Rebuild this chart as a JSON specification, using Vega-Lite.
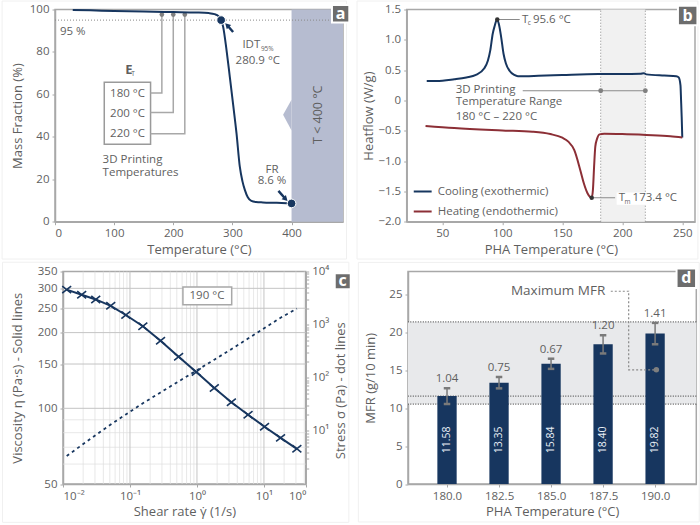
{
"$schema":"https://vega.github.io/schema/vega-lite/v6.json",
"autosize":{"type":"pad"},
"padding":{"left":0,"top":-0.5,"right":0,"bottom":0},
"background":"white",
"config":{
 "font":"Open Sans",
 "view":{"stroke":"#a8a8a8","strokeWidth":1.5},
 "axis":{"grid":false,"domainColor":"#a8a8a8","domainWidth":1.5,"tickColor":"#a8a8a8","tickSize":3,"labelColor":"#5f5f5f","labelFont":"Open Sans","labelFontSize":11.5,"labelPadding":3,"titleFont":"Open Sans","titleFontSize":13,"titleFontWeight":"normal","titleColor":"#5f5f5f","titleBaseline":"middle","labelOverlap":false,"labelBound":false},
 "text":{"font":"Open Sans","fontSize":11.5,"color":"#5f5f5f"}
},
"spacing":0,
"bounds":"full",
"vconcat":[
{"resolve":{"scale":{"color":"independent"},"legend":{"color":"independent"}},"hconcat":[
{"width":288,"height":212.2,
 "encoding":{
  "x":{"field":"x","type":"quantitative","scale":{"domain":[0,487],"nice":false},"axis":{"title":"Temperature (°C)","values":[0,100,200,300,400],"titleY":27.5}},
  "y":{"field":"y","type":"quantitative","scale":{"domain":[0,100],"nice":false},"axis":{"title":"Mass Fraction (%)","values":[0,20,40,60,80,100],"titleX":-38}}
 },
 "layer":[
  {"data":{"values":[{"x":-89.5,"x2":493,"y":104,"y2":-17.6}]},"mark":{"type":"rect","fill":null,"stroke":"#f0f0f0","strokeWidth":1},"encoding":{"x2":{"field":"x2"},"y2":{"field":"y2"}}},
  {"data":{"values":[{"x":400,"x2":487,"y":0,"y2":100}]},"mark":{"type":"rect","fill":"#b6bcd0"},"encoding":{"x2":{"field":"x2"},"y2":{"field":"y2"}}},
  {"data":{"values":[{"x":385.7,"y":50.4,"y2":50.4},{"x":400,"y":57.5,"y2":43}]},"mark":{"type":"area","fill":"#b6bcd0"},"encoding":{"y2":{"field":"y2"}}},
  {"data":{"values":[{"x":0,"x2":487,"y":95}]},"mark":{"type":"rule","stroke":"#8a8a8a","strokeWidth":1,"strokeDash":[1,2]},"encoding":{"x2":{"field":"x2"}}},
  {"data":{"values":[{"x":83.3,"x2":161.6,"y":65.7,"y2":36.5}]},"mark":{"type":"rect","fill":null,"stroke":"#9a9a9a","strokeWidth":1.5},"encoding":{"x2":{"field":"x2"},"y2":{"field":"y2"}}},
  {"data":{"values":[
    {"g":"a","i":1,"x":161.6,"y":60.6},{"g":"a","i":2,"x":180.7,"y":60.6},{"g":"a","i":3,"x":180.7,"y":97.6},
    {"g":"b","i":1,"x":161.6,"y":51.5},{"g":"b","i":2,"x":200,"y":51.5},{"g":"b","i":3,"x":200,"y":97.6},
    {"g":"c","i":1,"x":161.6,"y":41.4},{"g":"c","i":2,"x":219.5,"y":41.4},{"g":"c","i":3,"x":219.5,"y":97.6}]},
   "mark":{"type":"line","stroke":"#a8a8a8","strokeWidth":1.5},"encoding":{"detail":{"field":"g"},"order":{"field":"i"}}},
  {"data":{"values":[{"x":180.7,"y":97.6},{"x":200,"y":97.6},{"x":219.5,"y":97.6}]},"mark":{"type":"point","filled":true,"fill":"#808080","stroke":null,"size":22,"opacity":1}},
  {"data":{"values":[{"x":30,"y":99.8},{"x":60,"y":99.6},{"x":100,"y":99.3},{"x":150,"y":99.0},{"x":200,"y":98.8},{"x":240,"y":98.6},{"x":260,"y":98.3},{"x":270,"y":97.8},{"x":276,"y":97},{"x":280.9,"y":95},{"x":284.3,"y":91.9},{"x":290,"y":81},{"x":295.6,"y":68.3},{"x":301.3,"y":55},{"x":306.9,"y":41.7},{"x":312.5,"y":25.9},{"x":317,"y":19},{"x":321,"y":15},{"x":326,"y":11.5},{"x":332,"y":9.8},{"x":340,"y":9.3},{"x":351.6,"y":9.1},{"x":375,"y":8.9},{"x":400,"y":8.6}]},"mark":{"type":"line","stroke":"#17365f","strokeWidth":2,"interpolate":"monotone"}},
  {"data":{"values":[{"x":280.9,"y":95},{"x":400,"y":8.6}]},"mark":{"type":"point","filled":true,"fill":"#17365f","stroke":"white","strokeWidth":1,"size":75,"opacity":1}},
  {"data":{"values":[{"x":301.2,"y":89.4},{"x":293,"y":92}]},"mark":{"type":"line","stroke":"#17365f","strokeWidth":2.5}},
  {"data":{"values":[{"x":291,"y":92.6}]},"mark":{"type":"point","shape":"triangle-up","filled":true,"fill":"#17365f","stroke":null,"size":38,"angle":-45,"opacity":1}},
  {"data":{"values":[{"x":377.8,"y":14.5},{"x":388,"y":11.3}]},"mark":{"type":"line","stroke":"#17365f","strokeWidth":2.5}},
  {"data":{"values":[{"x":390,"y":10.7}]},"mark":{"type":"point","shape":"triangle-up","filled":true,"fill":"#17365f","stroke":null,"size":38,"angle":135,"opacity":1}},
  {"data":{"values":[{"x":122.6,"y":60,"t":"180 °C"},{"x":122.6,"y":50.8,"t":"200 °C"},{"x":122.6,"y":41.4,"t":"220 °C"},{"x":332,"y":83.5,"t":"IDT"},{"x":343,"y":75.9,"t":"280.9 °C"},{"x":367,"y":24.4,"t":"FR"},{"x":367,"y":19.2,"t":"8.6 %"}]},"mark":{"type":"text","align":"center","baseline":"middle"},"encoding":{"text":{"field":"t"}}},
  {"data":{"values":[{"x":8.4,"y":89.4,"t":"95 %"},{"x":80.5,"y":29,"t":"3D Printing"},{"x":80.5,"y":22.8,"t":"Temperatures"}]},"mark":{"type":"text","align":"left","baseline":"middle"},"encoding":{"text":{"field":"t"}}},
  {"data":{"values":[{"x":359,"y":81.6,"t":"95%"},{"x":132,"y":69.8,"t":"T"}]},"mark":{"type":"text","align":"center","baseline":"middle","fontSize":6.5},"encoding":{"text":{"field":"t"}}},
  {"data":{"values":[{"x":125,"y":71.5,"t":"E"}]},"mark":{"type":"text","align":"center","baseline":"middle","fontSize":13,"fontWeight":"bold"},"encoding":{"text":{"field":"t"}}},
  {"data":{"values":[{"x":444.8,"y":50.4,"t":"T < 400 °C"}]},"mark":{"type":"text","align":"center","baseline":"middle","angle":270,"fontSize":12.5},"encoding":{"text":{"field":"t"}}},
  {"data":{"values":[{"x":483,"y":98}]},"mark":{"type":"point","shape":"square","filled":true,"fill":"#6d6d6d","stroke":"white","strokeWidth":2,"size":300,"opacity":1}},
  {"data":{"values":[{"x":483,"y":98,"t":"a"}]},"mark":{"type":"text","align":"center","baseline":"middle","fontSize":16,"fontWeight":"bold","color":"white"},"encoding":{"text":{"field":"t"}}}
 ]},
{"width":288.3,"height":212.2,
 "encoding":{
  "x":{"field":"x","type":"quantitative","scale":{"domain":[20.3,260.6],"nice":false},"axis":{"title":"PHA Temperature (°C)","values":[50,100,150,200,250],"titleY":27.5}},
  "y":{"field":"y","type":"quantitative","scale":{"domain":[-2,1.5],"nice":false},"axis":{"title":"Heatflow (W/g)","values":[-2,-1.5,-1,-0.5,0,0.5,1,1.5],"labelExpr":"datum.value===0?'0':format(datum.value,'.1f')","titleX":-38}}
 },
 "layer":[
  {"data":{"values":[{"x":-21.1,"x2":263,"y":1.64,"y2":-2.616}]},"mark":{"type":"rect","fill":null,"stroke":"#f0f0f0","strokeWidth":1},"encoding":{"x2":{"field":"x2"},"y2":{"field":"y2"}}},
  {"data":{"values":[{"x":182,"x2":219.2,"y":-2,"y2":1.5}]},"mark":{"type":"rect","fill":"#f1f1f1"},"encoding":{"x2":{"field":"x2"},"y2":{"field":"y2"}}},
  {"data":{"values":[{"x":182,"y":-2,"y2":1.5},{"x":219.2,"y":-2,"y2":1.5}]},"mark":{"type":"rule","stroke":"#8a8a8a","strokeWidth":1,"strokeDash":[1,2]},"encoding":{"y2":{"field":"y2"}}},
  {"data":{"values":[{"x":195.3,"x2":222,"y":-1.52,"y2":-1.72}]},"mark":{"type":"rect","fill":"white"},"encoding":{"x2":{"field":"x2"},"y2":{"field":"y2"}}},
  {"data":{"values":[{"x":117,"x2":219.2,"y":0.16}]},"mark":{"type":"rule","stroke":"#8a8a8a","strokeWidth":1.2},"encoding":{"x2":{"field":"x2"}}},
  {"data":{"values":[{"x":182,"y":0.16},{"x":219.2,"y":0.16}]},"mark":{"type":"point","filled":true,"fill":"#808080","stroke":null,"size":24,"opacity":1}},
  {"data":{"values":[{"x":95.8,"x2":114.5,"y":1.335},{"x":174.5,"x2":194,"y":-1.605}]},"mark":{"type":"rule","stroke":"#8a8a8a","strokeWidth":1},"encoding":{"x2":{"field":"x2"}}},
  {"data":{"values":[
   {"s":"Cooling (exothermic)","x":37,"y":0.32},{"s":"Cooling (exothermic)","x":45,"y":0.32},{"s":"Cooling (exothermic)","x":60,"y":0.35},{"s":"Cooling (exothermic)","x":70,"y":0.38},{"s":"Cooling (exothermic)","x":78,"y":0.42},{"s":"Cooling (exothermic)","x":85,"y":0.53},{"s":"Cooling (exothermic)","x":88,"y":0.66},{"s":"Cooling (exothermic)","x":90,"y":0.83},{"s":"Cooling (exothermic)","x":92,"y":1.1},{"s":"Cooling (exothermic)","x":93.5,"y":1.22},{"s":"Cooling (exothermic)","x":95.6,"y":1.335},{"s":"Cooling (exothermic)","x":97,"y":1.27},{"s":"Cooling (exothermic)","x":99,"y":1.05},{"s":"Cooling (exothermic)","x":101,"y":0.77},{"s":"Cooling (exothermic)","x":103,"y":0.61},{"s":"Cooling (exothermic)","x":106,"y":0.49},{"s":"Cooling (exothermic)","x":110,"y":0.42},{"s":"Cooling (exothermic)","x":113,"y":0.4},{"s":"Cooling (exothermic)","x":130,"y":0.407},{"s":"Cooling (exothermic)","x":150,"y":0.42},{"s":"Cooling (exothermic)","x":180,"y":0.435},{"s":"Cooling (exothermic)","x":200,"y":0.435},{"s":"Cooling (exothermic)","x":215,"y":0.44},{"s":"Cooling (exothermic)","x":218,"y":0.45},{"s":"Cooling (exothermic)","x":220,"y":0.43},{"s":"Cooling (exothermic)","x":235,"y":0.41},{"s":"Cooling (exothermic)","x":245,"y":0.4},{"s":"Cooling (exothermic)","x":247,"y":0.38},{"s":"Cooling (exothermic)","x":248.5,"y":0.25},{"s":"Cooling (exothermic)","x":249,"y":0},{"s":"Cooling (exothermic)","x":249.5,"y":-0.27},{"s":"Cooling (exothermic)","x":250,"y":-0.61},
   {"s":"Heating (endothermic)","x":36,"y":-0.42},{"s":"Heating (endothermic)","x":60,"y":-0.456},{"s":"Heating (endothermic)","x":100,"y":-0.495},{"s":"Heating (endothermic)","x":125,"y":-0.516},{"s":"Heating (endothermic)","x":140,"y":-0.555},{"s":"Heating (endothermic)","x":150,"y":-0.615},{"s":"Heating (endothermic)","x":155,"y":-0.68},{"s":"Heating (endothermic)","x":160,"y":-0.82},{"s":"Heating (endothermic)","x":165,"y":-1.15},{"s":"Heating (endothermic)","x":168,"y":-1.37},{"s":"Heating (endothermic)","x":171,"y":-1.53},{"s":"Heating (endothermic)","x":174.5,"y":-1.605},{"s":"Heating (endothermic)","x":175.5,"y":-1.48},{"s":"Heating (endothermic)","x":176.5,"y":-1.09},{"s":"Heating (endothermic)","x":177.5,"y":-0.76},{"s":"Heating (endothermic)","x":179,"y":-0.63},{"s":"Heating (endothermic)","x":181,"y":-0.56},{"s":"Heating (endothermic)","x":185,"y":-0.55},{"s":"Heating (endothermic)","x":200,"y":-0.555},{"s":"Heating (endothermic)","x":220,"y":-0.57},{"s":"Heating (endothermic)","x":240,"y":-0.59},{"s":"Heating (endothermic)","x":250,"y":-0.61}]},
   "mark":{"type":"line","strokeWidth":2,"interpolate":"monotone"},
   "encoding":{"color":{"field":"s","type":"nominal","scale":{"domain":["Cooling (exothermic)","Heating (endothermic)"],"range":["#17365f","#8c2f36"]},"legend":{"orient":"none","legendX":6,"legendY":172,"title":null,"symbolType":"stroke","symbolStrokeWidth":2,"symbolSize":320,"labelFont":"Open Sans","labelFontSize":11.5,"labelColor":"#5f5f5f","rowPadding":4,"labelLimit":200,"labelOffset":5}}}},
  {"data":{"values":[{"x":95.8,"y":1.335},{"x":174.5,"y":-1.605}]},"mark":{"type":"point","filled":true,"fill":"#333333","stroke":null,"size":20,"opacity":1}},
  {"data":{"values":[{"x":61.1,"y":0.18,"t":"3D Printing"},{"x":61.1,"y":-0.03,"t":"Temperature Range"},{"x":61.1,"y":-0.27,"t":"180 °C – 220 °C"},{"x":116.5,"y":1.32,"t":"T"},{"x":125.5,"y":1.32,"t":"95.6 °C"},{"x":197,"y":-1.615,"t":"T"},{"x":208.6,"y":-1.615,"t":"173.4 °C"}]},"mark":{"type":"text","align":"left","baseline":"middle"},"encoding":{"text":{"field":"t"}}},
  {"data":{"values":[{"x":122.5,"y":1.27,"t":"c"},{"x":204.4,"y":-1.67,"t":"m"}]},"mark":{"type":"text","align":"center","baseline":"middle","fontSize":6.5},"encoding":{"text":{"field":"t"}}},
  {"data":{"values":[{"x":254.5,"y":1.4}]},"mark":{"type":"point","shape":"square","filled":true,"fill":"#6d6d6d","stroke":"white","strokeWidth":2,"size":380,"opacity":1}},
  {"data":{"values":[{"x":254.5,"y":1.4,"t":"b"}]},"mark":{"type":"text","align":"center","baseline":"middle","fontSize":16,"fontWeight":"bold","color":"white"},"encoding":{"text":{"field":"t"}}}
 ]}
],"spacing":63.7,"bounds":"flush"},
{"hconcat":[
{"width":7.3,"height":212.5,"view":{"stroke":null},"data":{"values":[{"x":0}]},"mark":{"type":"rule","opacity":0},"encoding":{}},
{"width":242.7,"height":212.5,
 "layer":[
 {"encoding":{
  "x":{"field":"x","type":"quantitative","scale":{"type":"log","domain":[0.01,42],"nice":false},"axis":{"title":"Shear rate γ̇  (1/s)","values":[0.01,0.1,1,10,42],"labelExpr":"datum.value==0.01?'10⁻²':datum.value==0.1?'10⁻¹':datum.value==1?'10⁰':datum.value==10?'10¹':'10⁰'","titleY":27.5}},
  "y":{"field":"y","type":"quantitative","scale":{"type":"log","domain":[50,350],"nice":false},"axis":{"title":"Viscosity η (Pa·s) - Solid lines","values":[50,100,150,200,250,300,350],"format":"d","titleX":-45.3}}
 },
 "layer":[
  {"data":{"values":[{"x":0.00125,"x2":185,"y":381,"y2":35.2}]},"mark":{"type":"rect","fill":null,"stroke":"#f0f0f0","strokeWidth":1},"encoding":{"x2":{"field":"x2"},"y2":{"field":"y2"}}},
  {"data":{"values":[{"x":0.02},{"x":0.03},{"x":0.04},{"x":0.05},{"x":0.06},{"x":0.07},{"x":0.08},{"x":0.09},{"x":0.2},{"x":0.3},{"x":0.4},{"x":0.5},{"x":0.6},{"x":0.7},{"x":0.8},{"x":0.9},{"x":2},{"x":3},{"x":4},{"x":5},{"x":6},{"x":7},{"x":8},{"x":9},{"x":20},{"x":30},{"x":40}]},"mark":{"type":"rule","stroke":"#dedede","strokeWidth":0.7},"encoding":{"y":null}},
  {"data":{"values":[{"y":60},{"y":70},{"y":80},{"y":90}]},"mark":{"type":"rule","stroke":"#dedede","strokeWidth":0.7},"encoding":{"x":null}},
  {"data":{"values":[{"x":0.1},{"x":1},{"x":10}]},"mark":{"type":"rule","stroke":"#c4c4c4","strokeWidth":1},"encoding":{"y":null}},
  {"data":{"values":[{"y":100},{"y":150},{"y":200},{"y":250},{"y":300}]},"mark":{"type":"rule","stroke":"#c4c4c4","strokeWidth":1},"encoding":{"x":null}},
  {"data":{"values":[{"x":0.617,"x2":3.3,"y":304,"y2":258}]},"mark":{"type":"rect","fill":"white","stroke":"#a8a8a8","strokeWidth":1.5},"encoding":{"x2":{"field":"x2"},"y2":{"field":"y2"}}},
  {"data":{"values":[{"x":1.41,"y":280,"t":"190 °C"}]},"mark":{"type":"text","align":"center","baseline":"middle"},"encoding":{"text":{"field":"t"}}},
  {"data":{"values":[{"x":0.01135,"y":296.6},{"x":0.019,"y":283},{"x":0.0308,"y":271},{"x":0.0516,"y":255.6},{"x":0.0867,"y":235},{"x":0.1556,"y":212},{"x":0.2858,"y":185.6},{"x":0.532,"y":160.4},{"x":0.977,"y":139.4},{"x":1.815,"y":120.5},{"x":3.26,"y":105.7},{"x":5.79,"y":94.3},{"x":10.2,"y":84.5},{"x":17.7,"y":76.3},{"x":31,"y":69}]},
   "layer":[
    {"mark":{"type":"line","stroke":"#17365f","strokeWidth":2}},
    {"mark":{"type":"point","shape":"M-1,-0.8L1,0.8M-1,0.8L1,-0.8","filled":false,"stroke":"#17365f","strokeWidth":1.6,"size":80,"opacity":1}}
   ]},
  {"data":{"values":[{"x":150,"y":320}]},"mark":{"type":"point","shape":"square","filled":true,"fill":"#6d6d6d","stroke":"white","strokeWidth":2,"size":256,"opacity":1}},
  {"data":{"values":[{"x":150,"y":320,"t":"c"}]},"mark":{"type":"text","align":"center","baseline":"middle","fontSize":16,"fontWeight":"bold","color":"white"},"encoding":{"text":{"field":"t"}}}
 ]},
 {"data":{"values":[{"x":0.01135,"s":3.37},{"x":0.019,"s":5.38},{"x":0.0308,"s":8.35},{"x":0.0516,"s":13.2},{"x":0.0867,"s":20.4},{"x":0.1556,"s":33},{"x":0.2858,"s":53},{"x":0.532,"s":85.3},{"x":0.977,"s":136},{"x":1.815,"s":219},{"x":3.26,"s":345},{"x":5.79,"s":546},{"x":10.2,"s":862},{"x":17.7,"s":1350},{"x":31,"s":2000}]},
  "mark":{"type":"line","stroke":"#17365f","strokeWidth":1.8,"strokeDash":[3,3.5]},
  "encoding":{
   "x":{"field":"x","type":"quantitative","scale":{"type":"log","domain":[0.01,42],"nice":false}},
   "y":{"field":"s","type":"quantitative","scale":{"type":"log","domain":[1,10000],"nice":false},"axis":{"orient":"right","title":"Stress σ (Pa) - dot lines","titleAngle":270,"values":[2,3,4,5,6,7,8,9,10,20,30,40,50,60,70,80,90,100,200,300,400,500,600,700,800,900,1000,2000,3000,4000,5000,6000,7000,8000,9000,10000],"labelExpr":"datum.value==10?'10¹':datum.value==100?'10²':datum.value==1000?'10³':datum.value==10000?'10⁴':''","titleX":35,"titleY":118.7}}
  }}
 ],
 "resolve":{"scale":{"y":"independent"},"axis":{"y":"independent"}}
},
{"width":101.7,"height":212.5,"view":{"stroke":null},"data":{"values":[{"x":0}]},"mark":{"type":"rule","opacity":0},"encoding":{}},
{"width":288.3,"height":212.5,
 "encoding":{
  "x":{"field":"x","type":"quantitative","scale":{"domain":[178.125,191.98],"nice":false,"padding":0},"axis":{"title":"PHA Temperature (°C)","values":[180,182.5,185,187.5,190],"format":".1f","titleY":27.5}},
  "y":{"field":"y","type":"quantitative","scale":{"domain":[0,28],"nice":false},"axis":{"title":"MFR (g/10 min)","values":[0,5,10,15,20,25],"titleX":-38}}
 },
 "layer":[
  {"data":{"values":[{"x":175.74,"x2":192.12,"y":29.2,"y2":-5}]},"mark":{"type":"rect","fill":null,"stroke":"#f0f0f0","strokeWidth":1},"encoding":{"x2":{"field":"x2"},"y2":{"field":"y2"}}},
  {"data":{"values":[{"x":178.125,"x2":191.98,"y":10.53,"y2":21.36}]},"mark":{"type":"rect","fill":"#e8e9eb"},"encoding":{"x2":{"field":"x2"},"y2":{"field":"y2"}}},
  {"data":{"values":[{"y":21.36},{"y":11.58},{"y":10.53}]},"mark":{"type":"rule","stroke":"#555555","strokeWidth":1.3,"strokeDash":[1,1.5]},"encoding":{"x":null}},
  {"data":{"values":[{"x":180,"y":11.58},{"x":182.5,"y":13.35},{"x":185,"y":15.84},{"x":187.5,"y":18.4},{"x":190,"y":19.82}]},"mark":{"type":"bar","fill":"#17365f","size":19.3}},
  {"data":{"values":[{"x":180,"y":10.54,"y2":12.62,"e":"1.04"},{"x":182.5,"y":12.6,"y2":14.1,"e":"0.75"},{"x":185,"y":15.17,"y2":16.51,"e":"0.67"},{"x":187.5,"y":17.2,"y2":19.6,"e":"1.20"},{"x":190,"y":18.41,"y2":21.23,"e":"1.41"}]},
   "layer":[
    {"mark":{"type":"rule","stroke":"#7a7a7a","strokeWidth":1.5},"encoding":{"y2":{"field":"y2"}}},
    {"mark":{"type":"tick","orient":"horizontal","stroke":"#7a7a7a","strokeWidth":1.5,"size":5,"opacity":1}},
    {"mark":{"type":"tick","orient":"horizontal","stroke":"#7a7a7a","strokeWidth":1.5,"size":5,"opacity":1},"encoding":{"y":{"field":"y2","type":"quantitative"}}},
    {"mark":{"type":"text","align":"center","baseline":"middle","dy":-9},"encoding":{"y":{"field":"y2","type":"quantitative"},"text":{"field":"e"}}}
   ]},
  {"data":{"values":[{"x":180,"y":5.8,"t":"11.58"},{"x":182.5,"y":5.8,"t":"13.35"},{"x":185,"y":5.8,"t":"15.84"},{"x":187.5,"y":5.8,"t":"18.40"},{"x":190,"y":5.8,"t":"19.82"}]},"mark":{"type":"text","align":"center","baseline":"middle","angle":270,"fontSize":10.5,"color":"#e8eef5","fill":"#e8eef5"},"encoding":{"text":{"field":"t"}}},
  {"data":{"values":[{"i":1,"x":187.87,"y":25.4},{"i":2,"x":188.73,"y":25.4},{"i":3,"x":188.73,"y":15.04},{"i":4,"x":190.06,"y":15.04}]},"mark":{"type":"line","stroke":"#8a8a8a","strokeWidth":1.2,"strokeDash":[2,2]},"encoding":{"order":{"field":"i"}}},
  {"data":{"values":[{"x":190.06,"y":15.04}]},"mark":{"type":"point","filled":true,"fill":"#7f7f7f","stroke":null,"size":30,"opacity":1}},
  {"data":{"values":[{"x":185.34,"y":25.4,"t":"Maximum MFR"}]},"mark":{"type":"text","align":"center","baseline":"middle","fontSize":13.5},"encoding":{"text":{"field":"t"}}},
  {"data":{"values":[{"x":191.5,"y":27.1}]},"mark":{"type":"point","shape":"square","filled":true,"fill":"#6d6d6d","stroke":"white","strokeWidth":2,"size":380,"opacity":1}},
  {"data":{"values":[{"x":191.5,"y":27.1,"t":"d"}]},"mark":{"type":"text","align":"center","baseline":"middle","fontSize":16,"fontWeight":"bold","color":"white"},"encoding":{"text":{"field":"t"}}}
 ]}
],"spacing":0,"bounds":"flush"}
]}
